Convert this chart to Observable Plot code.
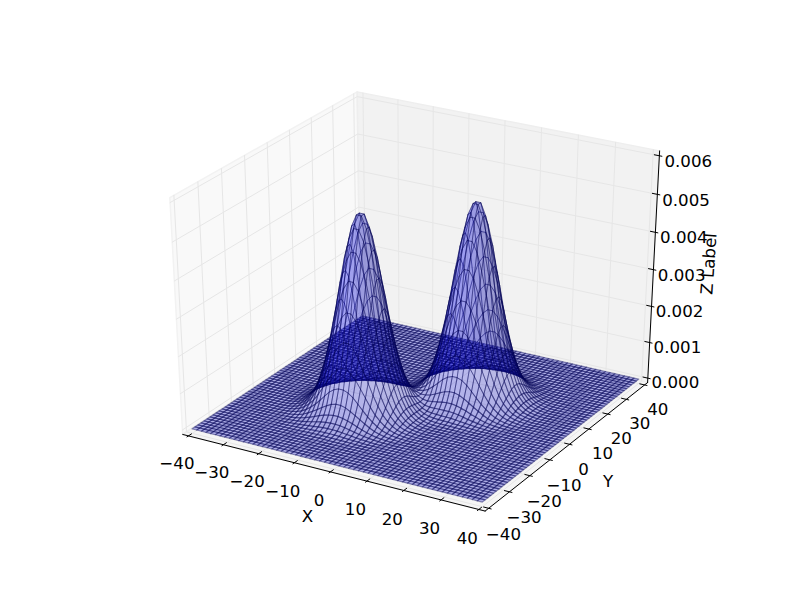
<!DOCTYPE html>
<html><head><meta charset="utf-8">
<style>html,body{margin:0;padding:0;background:#fff}</style>
<script src="https://cdn.jsdelivr.net/npm/d3@7"></script>
<script src="https://cdn.jsdelivr.net/npm/@observablehq/plot@0.6"></script>
</head><body><script>
// values
const xTicks = [-40,-30,-20,-10,0,10,20,30,40];
const yTicks = [-40,-30,-20,-10,0,10,20,30,40];
const zTicks = [0,0.001,0.002,0.003,0.004,0.005,0.006];
const xTickLabels = ["−40","−30","−20","−10","0","10","20","30","40"];
const yTickLabels = ["−40","−30","−20","−10","0","10","20","30","40"];
const zTickLabels = ["0.000","0.001","0.002","0.003","0.004","0.005","0.006"];
const peakX = [-10,10];
const peakY = [-10,10];
const radius = [0,1,2,3,4,5,6,7,8,9,10,11,12,13,14,15,16,17,18,19,20];
const bumpHeight = [.00532,.00523,.00497,.00457,.00406,.00349,.00289,.00231,.00180,.00135,.00098,.00069,.00046,.00031,.00020,.00012,.00007,.00004,.00002,.00001,0];
const meshCells = 60;
const meshStep = 80/meshCells;

const xyLim = [-40,40], zLim = [0,0.006];
const xyPad = 80/48, zPad = 0.006/48;
const xyMin = xyLim[0]-xyPad, xyMax = xyLim[1]+xyPad, zMin = zLim[0]-zPad, zMax = zLim[1]+zPad;

// view: elevation 30, azimuth -60, distance 10
const el = 30*Math.PI/180, az = -60*Math.PI/180, dist = 10;
const n = [Math.cos(el)*Math.cos(az), Math.cos(el)*Math.sin(az), Math.sin(el)];
const nu = Math.hypot(n[1],n[0]);
const u = [-n[1]/nu, n[0]/nu, 0];
const v = [n[1]*u[2]-n[2]*u[1], n[2]*u[0]-n[0]*u[2], n[0]*u[1]-n[1]*u[0]];
function proj(x,y,z){
  const a=(x-xyLim[0])/(xyLim[1]-xyLim[0])-.5, b=(y-xyLim[0])/(xyLim[1]-xyLim[0])-.5, c=(z-zLim[0])/(zLim[1]-zLim[0])-.5;
  const d = dist-(n[0]*a+n[1]*b+n[2]*c);
  return {sx:(u[0]*a+u[1]*b)/d, sy:(v[0]*a+v[1]*b+v[2]*c)/d, depth:d};
}
const heightAt = r => {
  if (r>=radius[radius.length-1]) return 0;
  const i=Math.floor(r), t=r-i;
  return bumpHeight[i]*(1-t)+bumpHeight[i+1]*t;
};
const surfaceZ = (x,y) => d3.sum(peakX,(px,k)=>heightAt(Math.hypot(x-px,y-peakY[k])));

// polygons helper
function poly(rows,id,pts,extra){ pts.forEach(p=>rows.push({id,...proj(...p),...extra})); }

const paneX=[],paneY=[],paneZ=[],grid=[];
poly(paneX,0,[[xyMin,xyMin,zMin],[xyMin,xyMax,zMin],[xyMin,xyMax,zMax],[xyMin,xyMin,zMax],[xyMin,xyMin,zMin]]);
poly(paneY,0,[[xyMin,xyMax,zMin],[xyMax,xyMax,zMin],[xyMax,xyMax,zMax],[xyMin,xyMax,zMax],[xyMin,xyMax,zMin]]);
poly(paneZ,0,[[xyMin,xyMin,zMin],[xyMax,xyMin,zMin],[xyMax,xyMax,zMin],[xyMin,xyMax,zMin],[xyMin,xyMin,zMin]]);
let gid=0;
xTicks.forEach(t=>poly(grid,gid++,[[t,xyMin,zMin],[t,xyMax,zMin],[t,xyMax,zMax]]));
yTicks.forEach(t=>poly(grid,gid++,[[xyMax,t,zMin],[xyMin,t,zMin],[xyMin,t,zMax]]));
zTicks.forEach(t=>poly(grid,gid++,[[xyMin,xyMin,t],[xyMin,xyMax,t],[xyMax,xyMax,t]]));

const axes=[],ticks=[];
poly(axes,0,[[xyMin,xyMin,zMin],[xyMax,xyMin,zMin]]);
poly(axes,1,[[xyMax,xyMin,zMin],[xyMax,xyMax,zMin]]);
poly(axes,2,[[xyMax,xyMax,zMin],[xyMax,xyMax,zMax]]);
const dXY=80/12, out=.1*dXY, inn=.2*dXY;
let tid=0;
xTicks.forEach(t=>poly(ticks,tid++,[[t,xyMin-out,zMin],[t,xyMin+inn,zMin]]));
yTicks.forEach(t=>poly(ticks,tid++,[[xyMax+out,t,zMin],[xyMax-inn,t,zMin]]));
zTicks.forEach(t=>poly(ticks,tid++,[[xyMax+out,xyMax,t],[xyMax-inn,xyMax,t]]));

const labels=[];
xTicks.forEach((t,i)=>labels.push({...proj(t+.5,xyMin-6.2,zMin-.0005),text:xTickLabels[i]}));
yTicks.forEach((t,i)=>labels.push({...proj(xyMax+4.0,t,zMin-.0006),text:yTickLabels[i]}));
zTicks.forEach((t,i)=>labels.push({...proj(xyMax+5.2,xyMax+5.2,t-.00023),text:zTickLabels[i]}));
const titles=[
  {...proj(0,xyMin-10.67,zMin-.00077),text:"X",rotate:0},
  {...proj(xyMax+10.67,0,zMin-.00077),text:"Y",rotate:0},
  {...proj(xyMax+10.1,xyMax+10.1,.003),text:"Z Label",rotate:-86}
];

// surface quads, painted far to near
const mesh=d3.range(0,meshCells).map(i=>xyLim[0]+i*meshStep);
const quads=[];
for(const x of mesh) for(const y of mesh){
  const x1=x+meshStep,y1=y+meshStep;
  const z00=surfaceZ(x,y),z10=surfaceZ(x1,y),z11=surfaceZ(x1,y1),z01=surfaceZ(x,y1);
  const slope=((z10+z11-z00-z01)+(z01+z11-z00-z10))/(2*meshStep);
  const pts=[[x,y,z00],[x1,y,z10],[x1,y1,z11],[x,y1,z01],[x,y,z00]];
  quads.push({pts,slope,meanZ:(z00+z10+z11+z01)/4,depth:d3.mean(pts.slice(0,4),p=>proj(...p).depth)});
}
const sMin=d3.min(quads,q=>q.slope),sMax=d3.max(quads,q=>q.slope);
quads.sort((a,b)=>b.depth-a.depth);
const surface=[];
quads.forEach((q,i)=>{
  const rise=Math.min(1,q.meanZ/.0012), high=Math.min(1,q.meanZ/.002);
  poly(surface,i,q.pts,{
    shade:(q.slope-sMin)/(sMax-sMin),
    lineAlpha:.42-.04*rise,
    lineWidth:1.2-.32*rise,
    faceAlpha:.30-.1*high
  });
});

const chart=Plot.plot({
  width:800,height:600,marginLeft:100,marginRight:80,marginTop:60,marginBottom:60,
  style:{background:"#fff",fontFamily:"'DejaVu Sans'",fontSize:"16.67px"},
  x:{domain:[-.095,.09],axis:null},
  y:{domain:[-.095,.09],axis:null},
  color:{type:"linear",domain:[0,1],range:["#000080","#0000ff"]},
  opacity:{type:"identity"},
  marks:[
    Plot.line(paneX,{x:"sx",y:"sy",z:"id",fill:"#f9f9f9",stroke:"#f2f2f2"}),
    Plot.line(paneY,{x:"sx",y:"sy",z:"id",fill:"#f2f2f2",stroke:"#eeeeee"}),
    Plot.line(paneZ,{x:"sx",y:"sy",z:"id",fill:"#f5f5f5",stroke:"#eeeeee"}),
    Plot.line(grid,{x:"sx",y:"sy",z:"id",stroke:"#e6e6e6",strokeWidth:1}),
    Plot.line(axes,{x:"sx",y:"sy",z:"id",stroke:"#000",strokeWidth:1}),
    Plot.line(ticks,{x:"sx",y:"sy",z:"id",stroke:"#000",strokeWidth:1}),
    Plot.line(surface,{x:"sx",y:"sy",z:"id",fill:"shade",fillOpacity:"faceAlpha",stroke:"#000050",strokeOpacity:"lineAlpha",strokeWidth:"lineWidth"}),
    Plot.text(labels,{x:"sx",y:"sy",text:"text",fontSize:16.67,fill:"#000",textAnchor:"middle",lineAnchor:"middle"}),
    Plot.text(titles,{x:"sx",y:"sy",text:"text",rotate:"rotate",fontSize:16.67,fill:"#000",textAnchor:"middle",lineAnchor:"middle"})
  ]
});
document.body.appendChild(chart);
// the reference surface is soft; soften only the mesh layer
const layers=chart.querySelectorAll('g[aria-label="line"]');
layers[6].style.filter="blur(0.6px)";
</script></body></html>
